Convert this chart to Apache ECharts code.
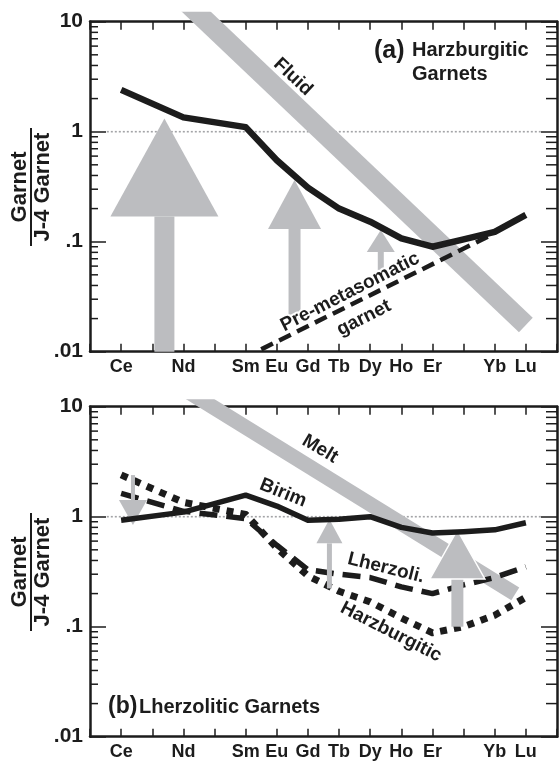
<!DOCTYPE html>
<html>
<head>
<meta charset="utf-8">
<script src="https://cdn.jsdelivr.net/npm/echarts@6/dist/echarts.min.js"></script>
<style>
html,body{margin:0;padding:0;background:#fff;}
#chart{width:560px;height:761px;}
</style>
</head>
<body>
<div id="chart"></div>
<script>
// ---------- DATA ----------
const categories = ['Ce','Pr','Nd','Pm','Sm','Eu','Gd','Tb','Dy','Ho','Er','Tm','Yb','Lu'];
const shownLabels = ['Ce','Nd','Sm','Eu','Gd','Tb','Dy','Ho','Er','Yb','Lu'];
const yTickLabels = ['.01','.1','1','10'];
const minorTickValues = [0.02,0.03,0.04,0.05,0.06,0.07,0.08,0.09,0.2,0.3,0.4,0.5,0.6,0.7,0.8,0.9,2,3,4,5,6,7,8,9];

const lineElems = ['Ce','Nd','Sm','Eu','Gd','Tb','Dy','Ho','Er','Tm','Yb','Lu'];
// panel (a)
const harzGarnetA = [2.4,1.35,1.1,0.55,0.31,0.2,0.152,0.107,0.09,0.105,0.123,0.175];
const preMetasomaticX = [4.5,11.88];
const preMetasomaticY = [0.0105,0.115];
const fluidX = [1.5,13.0];
const fluidY = [21.7,0.0175];
// arrows: [x position (element index), tail value, tip value]
const arrowsA = [[1.39,0.01,1.32],[5.57,0.0195,0.364],[8.34,0.048,0.128]];
// panel (b)
const birim = [0.93,1.1,1.57,1.25,0.93,0.95,1.0,0.8,0.71,0.73,0.76,0.88];
const lherzolitic = [1.63,1.12,0.96,0.55,0.33,0.3,0.28,0.23,0.2,0.24,0.28,0.35];
const harzburgiticB = [2.4,1.35,1.05,0.52,0.29,0.21,0.168,0.12,0.088,0.1,0.127,0.185];
const meltX = [1.5,12.66];
const meltY = [17.8,0.199];
const arrowsB = [[0.38,2.39,0.84],[6.69,0.223,0.946],[10.8,0.1,0.757]];
const unityX = [-0.46,13.5];

// ---------- STYLE ----------
const BLACK = '#1c1c1c';
const GRAY = '#bcbdc0';
const FONT = '"Liberation Sans", Arial, Helvetica, sans-serif';
const arrowStyleA = [{head:98,hw:54,sw:10},{head:49,hw:26.5,sw:6},{head:22,hw:14,sw:3}];
const arrowStyleB = [{head:25,hw:14,sw:2},{head:24,hw:13,sw:2.5},{head:49,hw:27.5,sw:6,outline:true}];

const chart = echarts.init(document.getElementById('chart'), null, {renderer:'canvas'});

function pts(xs, ys){ return xs.map((x,i)=>[x, ys[i]]); }
function elemPts(vals){ return lineElems.map((e,i)=>[categories.indexOf(e), vals[i]]); }

const gridTops = [21.7, 406.7];
const grids = gridTops.map(t=>({left:90, width:473, top:t, height:330}));

const xAxes = [], yAxes = [];
[0,1].forEach(g=>{
  xAxes.push({
    type:'value', gridIndex:g, position:'bottom', min:-1, max:14, interval:1,
    axisLine:{onZero:false, lineStyle:{color:BLACK,width:2.5}},
    axisTick:{inside:true,length:8,lineStyle:{color:BLACK,width:1.5}},
    axisLabel:{
      margin:6, color:BLACK, fontSize:18, fontWeight:'bold', fontFamily:FONT,
      formatter:v=>{const n=categories[Math.round(v)]; return (n && shownLabels.indexOf(n)>=0)?n:'';}
    },
    splitLine:{show:false}
  });
});
[0,1].forEach(g=>{
  xAxes.push({
    type:'value', gridIndex:g, position:'top', min:-1, max:14, interval:1,
    axisLine:{onZero:false, lineStyle:{color:BLACK,width:2.5}},
    axisTick:{inside:true,length:8,lineStyle:{color:BLACK,width:1.5}},
    axisLabel:{show:false}, splitLine:{show:false}
  });
});
[0,1].forEach(g=>{
  yAxes.push({
    type:'log', logBase:10, gridIndex:g, position:'left', min:0.01, max:10,
    axisLine:{onZero:false, lineStyle:{color:BLACK,width:2.5}},
    axisTick:{inside:true,length:16,lineStyle:{color:BLACK,width:1.5}},
    axisLabel:{margin:7, color:BLACK, fontSize:21, fontWeight:'bold', fontFamily:FONT,
      formatter:v=>yTickLabels[Math.round(Math.log10(v))+2]},
    splitLine:{show:false}
  });
});
[0,1].forEach(g=>{
  yAxes.push({
    type:'log', logBase:10, gridIndex:g, position:'right', min:0.01, max:10,
    axisLine:{onZero:false, lineStyle:{color:BLACK,width:2.5}},
    axisTick:{inside:true,length:16,lineStyle:{color:BLACK,width:1.5}},
    axisLabel:{show:false}, splitLine:{show:false}
  });
});

function lineSeries(g, data, style, z){
  return {type:'line', xAxisIndex:g, yAxisIndex:g, data:data, symbol:'none', silent:true,
    lineStyle:Object.assign({color:BLACK, cap:'butt', join:'round'}, style), z:z, animation:false, clip:true};
}

function arrowSeries(g, arrows, styles, z){
  return {
    type:'custom', xAxisIndex:g, yAxisIndex:g, coordinateSystem:'cartesian2d', z:z, silent:true, animation:false,
    data: arrows.map(a=>[a[0],a[1],a[2]]),
    renderItem:(params, api)=>{
      const st = styles[params.dataIndex];
      const x = api.value(0);
      const tail = api.coord([x, api.value(1)]);
      const tip = api.coord([x, api.value(2)]);
      const dir = tail[1] > tip[1] ? 1 : -1;
      const base = tip[1] + dir*st.head;
      const cx = tip[0];
      return {type:'group', children:[
        {type:'polygon', shape:{points:[[cx-st.sw,base],[cx+st.sw,base],[cx+st.sw,tail[1]],[cx-st.sw,tail[1]]]},
          style:{fill:GRAY}},
        {type:'polygon', shape:{points:[[cx,tip[1]],[cx+st.hw,base],[cx-st.hw,base]]},
          style:{fill:GRAY, stroke: st.outline?'#fff':null, lineWidth: st.outline?1.5:0}}
      ]};
    }
  };
}

function minorTickSeries(g){
  return {
    type:'custom', xAxisIndex:g, yAxisIndex:g, coordinateSystem:'cartesian2d', z:10, silent:true, animation:false,
    data: minorTickValues.map(v=>[0,v]),
    renderItem:(params, api)=>{
      const v = api.value(1);
      const l = api.coord([-1, v]);
      const r = api.coord([14, v]);
      return {type:'group', children:[
        {type:'line', shape:{x1:l[0], y1:l[1], x2:l[0]+8, y2:l[1]}, style:{stroke:BLACK, lineWidth:1.5}},
        {type:'line', shape:{x1:r[0], y1:r[1], x2:r[0]-11, y2:r[1]}, style:{stroke:BLACK, lineWidth:1.5}}
      ]};
    }
  };
}

const series = [
  // panel a
  lineSeries(0, pts(unityX,[1,1]), {color:'#a3a4a7', width:1.6, type:[2,2]}, 1),
  lineSeries(0, pts(fluidX, fluidY), {color:GRAY, width:20}, 2),
  arrowSeries(0, arrowsA, arrowStyleA, 3),
  lineSeries(0, pts(preMetasomaticX, preMetasomaticY), {width:4.5, type:[13,7]}, 5),
  lineSeries(0, elemPts(harzGarnetA), {width:6.5}, 6),
  minorTickSeries(0),
  // panel b
  lineSeries(1, pts(unityX,[1,1]), {color:'#a3a4a7', width:1.6, type:[2,2]}, 1),
  lineSeries(1, pts(meltX, meltY), {color:GRAY, width:15}, 2),
  lineSeries(1, elemPts(harzburgiticB), {width:7, type:[7,7]}, 4),
  lineSeries(1, elemPts(lherzolitic), {width:5.5, type:[18,9]}, 4),
  arrowSeries(1, arrowsB, arrowStyleB, 5),
  lineSeries(1, elemPts(birim), {width:5.5}, 6),
  minorTickSeries(1)
];

function txt(text, x, y, size, opts){
  opts = opts || {};
  return {type:'text', x:x, y:y, rotation:(opts.rot||0)*Math.PI/180, z:100,
    style:{text:text, font:'bold '+size+'px '+FONT, fill:BLACK, align:opts.align||'center', verticalAlign:'middle',
      stroke: opts.halo?'#fff':null, lineWidth: opts.halo?4:0}};
}

function fraction(cy){
  return {type:'group', x:31, y:cy, rotation:Math.PI/2, children:[
    {type:'text', x:0, y:-11, style:{text:'Garnet', font:'bold 22px '+FONT, fill:BLACK, align:'center', verticalAlign:'middle'}},
    {type:'line', shape:{x1:-59,y1:0,x2:59,y2:0}, style:{stroke:BLACK, lineWidth:2}},
    {type:'text', x:0, y:12, style:{text:'J-4 Garnet', font:'bold 22px '+FONT, fill:BLACK, align:'center', verticalAlign:'middle'}}
  ]};
}

const graphic = [
  fraction(187),
  fraction(572),
  // panel a annotations
  txt('(a)', 374, 51, 25, {align:'left'}),
  txt('Harzburgitic', 412, 50, 20, {align:'left'}),
  txt('Garnets', 412, 74, 20, {align:'left'}),
  txt('Fluid', 293, 77, 19, {rot:-43}),
  txt('Pre-metasomatic', 350, 292, 19, {rot:27, halo:true}),
  txt('garnet', 364, 318, 19, {rot:27, halo:true}),
  // panel b annotations
  txt('Melt', 320, 449, 19, {rot:-31}),
  txt('Birim', 283, 493, 19, {rot:-22}),
  txt('Lherzoli.', 386, 568, 19, {rot:-14}),
  txt('Harzburgitic', 391, 632, 19, {rot:-27}),
  txt('(b)', 108, 707, 23, {align:'left'}),
  txt('Lherzolitic Garnets', 139, 707, 20, {align:'left'})
];

chart.setOption({
  animation:false,
  backgroundColor:'#fff',
  grid:grids, xAxis:xAxes, yAxis:yAxes, series:series, graphic:graphic
});
</script>
</body>
</html>
